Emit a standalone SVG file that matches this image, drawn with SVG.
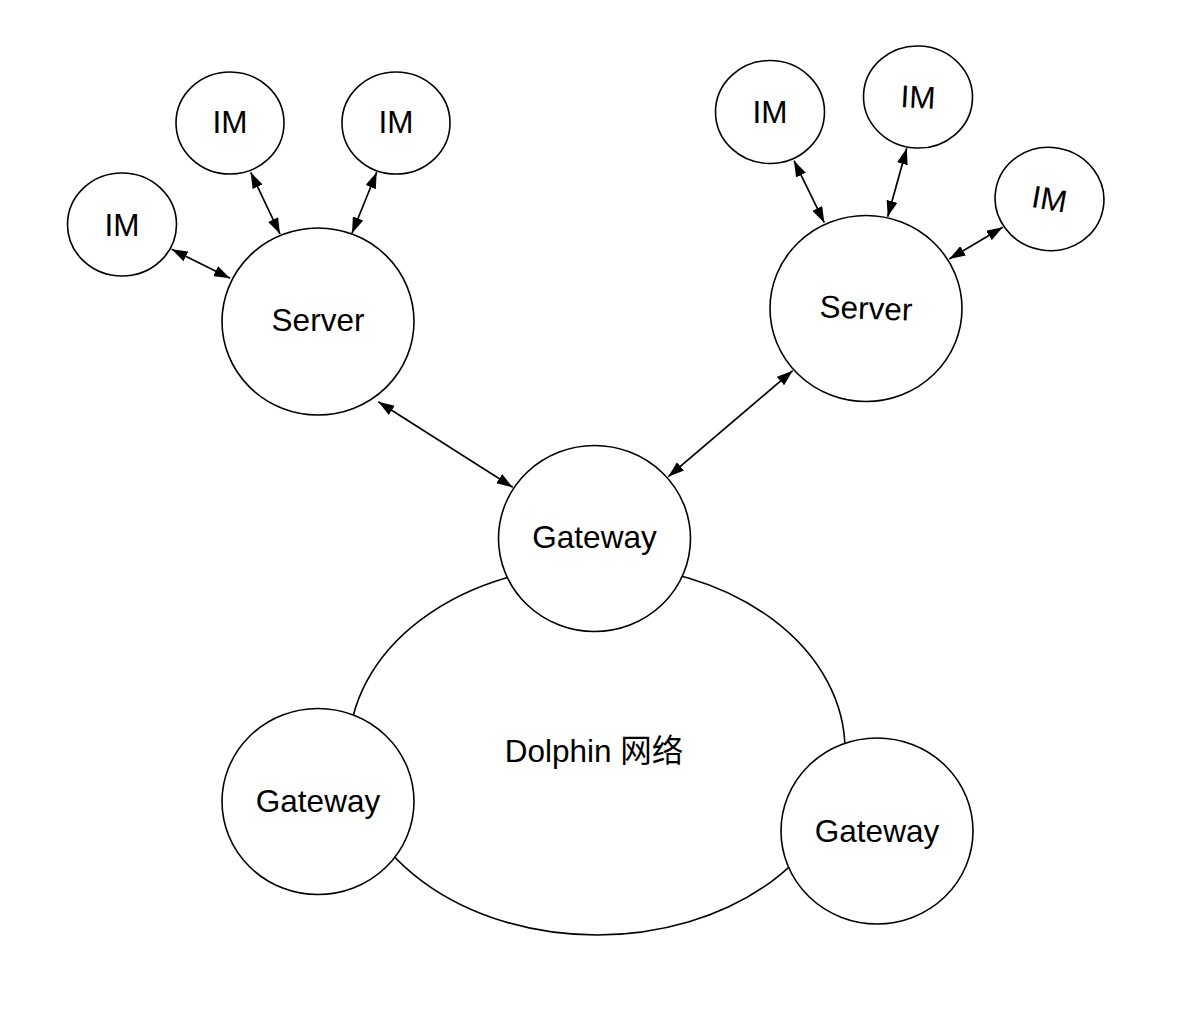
<svg xmlns="http://www.w3.org/2000/svg" width="1204" height="1026" viewBox="0 0 1204 1026">
<defs>
<marker id="ah" viewBox="0 0 16 11" refX="16" refY="5.5" markerWidth="16" markerHeight="11" markerUnits="userSpaceOnUse" orient="auto-start-reverse">
<path d="M0,0 L16,5.5 L0,11 z" fill="#000"/>
</marker>
<style>
.n{fill:#fff;stroke:#000;stroke-width:1.6}
.t{font-family:"Liberation Sans",Arial,"Noto Sans CJK SC",sans-serif;font-size:31.5px;fill:#000;text-anchor:middle}
.c{fill:none;stroke:#000;stroke-width:1.7;marker-start:url(#ah);marker-end:url(#ah)}
</style>
</defs>
<rect width="1204" height="1026" fill="#fff"/>
<g id="dolphin">
<ellipse class="n" cx="597" cy="750" rx="248" ry="185"/>
<text class="t" x="594" y="762">Dolphin 网络</text>
</g>
<g id="connectors">
<line class="c" x1="171.7" y1="249.3" x2="230" y2="278.3"/>
<line class="c" x1="250.7" y1="172.3" x2="280" y2="234"/>
<line class="c" x1="376.7" y1="172.3" x2="352" y2="233.3"/>
<line class="c" x1="794" y1="160.7" x2="824.3" y2="222.7"/>
<line class="c" x1="906.7" y1="148.3" x2="887.7" y2="216.7"/>
<line class="c" x1="1002.7" y1="227.3" x2="949.3" y2="259"/>
<line class="c" x1="378.3" y1="401.7" x2="512.7" y2="487.3"/>
<line class="c" x1="792.7" y1="370.7" x2="668.3" y2="476.7"/>
</g>
<g id="gateway-top">
<ellipse class="n" cx="594.5" cy="538.5" rx="96" ry="93"/>
<text class="t" x="594.5" y="548">Gateway</text>
</g>
<g id="gateway-left">
<ellipse class="n" cx="318" cy="801.5" rx="96" ry="93"/>
<text class="t" x="318" y="812">Gateway</text>
</g>
<g id="gateway-right">
<ellipse class="n" cx="877" cy="831" rx="96" ry="93"/>
<text class="t" x="877" y="842">Gateway</text>
</g>
<g id="server-left">
<ellipse class="n" cx="318" cy="321.5" rx="96" ry="93.5"/>
<text class="t" x="318" y="331">Server</text>
</g>
<g id="server-right">
<ellipse class="n" cx="866" cy="308.5" rx="96" ry="93"/>
<text class="t" x="866" y="319" transform="rotate(2 866 308.5)">Server</text>
</g>
<g id="im1">
<ellipse class="n" cx="122" cy="224.5" rx="54.5" ry="51.5"/>
<text class="t" x="122" y="235.5">IM</text>
</g>
<g id="im2">
<ellipse class="n" cx="230" cy="123" rx="54" ry="51"/>
<text class="t" x="230" y="133">IM</text>
</g>
<g id="im3">
<ellipse class="n" cx="396" cy="123" rx="54" ry="51"/>
<text class="t" x="396" y="133">IM</text>
</g>
<g id="im4">
<ellipse class="n" cx="770" cy="112" rx="54.5" ry="51.5"/>
<text class="t" x="770" y="123">IM</text>
</g>
<g id="im5">
<ellipse class="n" cx="918" cy="97" rx="54.5" ry="51" transform="rotate(3 918 97)"/>
<text class="t" x="918" y="108" transform="rotate(3 918 97)">IM</text>
</g>
<g id="im6">
<ellipse class="n" cx="1049.5" cy="199" rx="54.5" ry="51.5" transform="rotate(10 1049.5 199)"/>
<text class="t" x="1049.5" y="210" transform="rotate(10 1049.5 199)">IM</text>
</g>
</svg>
